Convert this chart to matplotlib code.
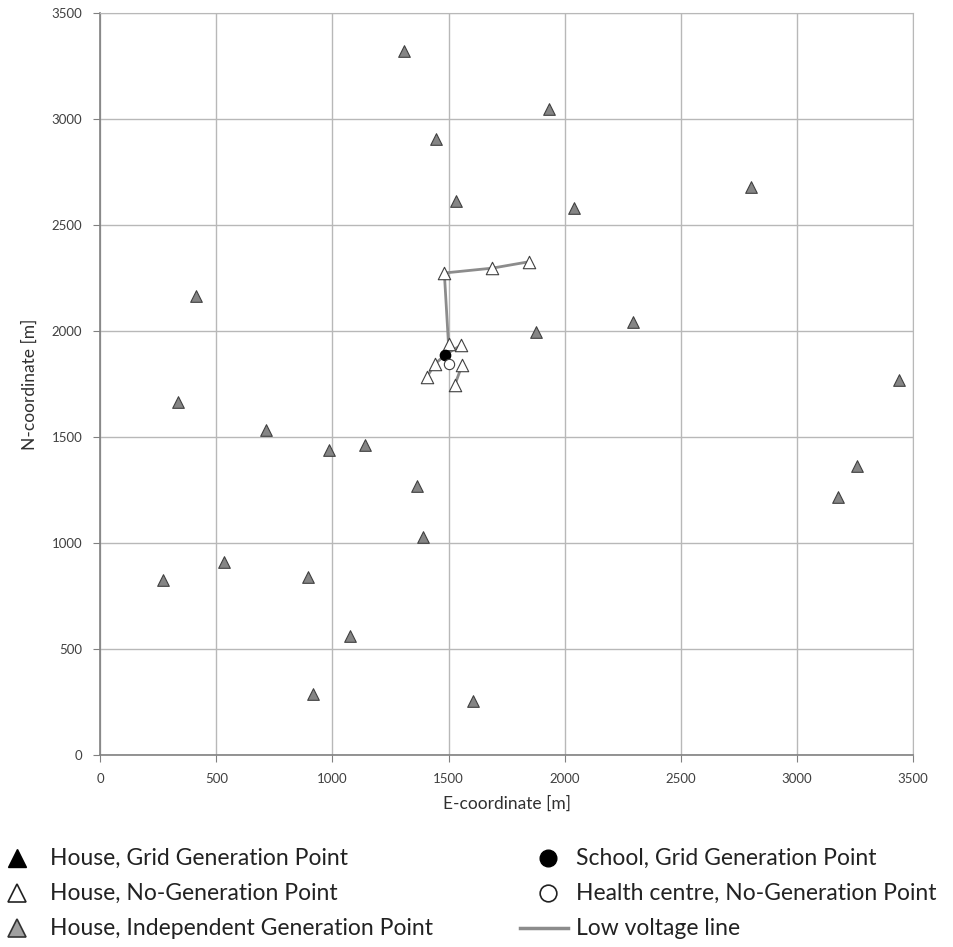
import matplotlib
matplotlib.use("Agg")
import matplotlib.pyplot as plt
from matplotlib.lines import Line2D

plt.rcParams['font.family'] = ['Lato', 'DejaVu Sans']

# Independent generation houses (gray triangles)
indep_e = [1307, 1931, 1445, 1532, 2041, 2804, 413, 1875, 2295, 335, 714, 984, 1140,
           1364, 1391, 270, 533, 894, 1074, 916, 1604, 3259, 3175, 3440]
indep_n = [3320, 3050, 2907, 2615, 2583, 2678, 2164, 1997, 2041, 1665, 1534, 1437, 1462,
           1270, 1030, 826, 910, 839, 562, 285, 253, 1361, 1218, 1770]

# No-generation houses (white triangles)
nogen_e = [1846, 1689, 1482, 1500, 1552, 1441, 1559, 1407, 1527]
nogen_n = [2327, 2297, 2274, 1937, 1932, 1844, 1841, 1783, 1745]

# School (grid generation) and health centre (no generation)
school_e, school_n = [1486], [1888]
health_e, health_n = [1500], [1843]

# Low voltage line branches
lines = [
    ([1846, 1689, 1482, 1500, 1486], [2327, 2297, 2274, 1937, 1888]),
    ([1486, 1552], [1888, 1932]),
    ([1486, 1441, 1407], [1888, 1844, 1783]),
    ([1559, 1527], [1841, 1745]),
]

ticks = [0, 500, 1000, 1500, 2000, 2500, 3000, 3500]

fig = plt.figure(figsize=(9.54, 9.47), dpi=100)
ax = fig.add_axes([0.105, 0.203, 0.852, 0.783])

line_color = '#8c8c8c'
for xs, ys in lines:
    ax.plot(xs, ys, color=line_color, lw=2, zorder=3)

ax.scatter(indep_e, indep_n, marker='^', s=70, facecolor='#858585', edgecolor='#404040',
           linewidths=0.8, zorder=4)
ax.scatter(nogen_e, nogen_n, marker='^', s=80, facecolor='white', edgecolor='#404040',
           linewidths=0.8, zorder=4)
ax.scatter(school_e, school_n, marker='o', s=55, facecolor='black', edgecolor='black', zorder=5)
ax.scatter(health_e, health_n, marker='o', s=55, facecolor='white', edgecolor='#404040',
           linewidths=0.8, zorder=5)

ax.set_xlim(0, 3500)
ax.set_ylim(0, 3500)
ax.set_xticks(ticks)
ax.set_yticks(ticks)
ax.set_xticklabels([str(t) for t in ticks])
ax.set_yticklabels([str(t) for t in ticks])
ax.grid(True, color='#b8b8b8', lw=1)
ax.set_axisbelow(True)
for s in ['top', 'right']:
    ax.spines[s].set_color('#b8b8b8')
for s in ['left', 'bottom']:
    ax.spines[s].set_color('#808080')
    ax.spines[s].set_linewidth(1.2)
ax.tick_params(direction='out', length=5, color='#808080', labelsize=9.5,
               labelcolor='#404040', pad=8)
ax.set_xlabel('E-coordinate [m]', fontsize=12.5, color='#303030', labelpad=8)
ax.set_ylabel('N-coordinate [m]', fontsize=12.5, color='#303030', labelpad=10)

# Legend (custom layout below the plot)
fs = 16.5
def fy(py):
    return 1 - py / 947
def fx(px):
    return px / 954

fig.add_artist(Line2D([fx(17)], [fy(858)], marker='^', ms=13, color='black',
                      markeredgecolor='black', transform=fig.transFigure))
fig.text(fx(50), fy(858), 'House, Grid Generation Point', fontsize=fs, va='center', color='#222222')
fig.add_artist(Line2D([fx(17)], [fy(893)], marker='^', ms=13, markerfacecolor='white',
                      markeredgecolor='#222222', markeredgewidth=1.2, transform=fig.transFigure))
fig.text(fx(50), fy(893), 'House, No-Generation Point', fontsize=fs, va='center', color='#222222')
fig.add_artist(Line2D([fx(17)], [fy(928)], marker='^', ms=13, markerfacecolor='#a0a0a0',
                      markeredgecolor='#333333', markeredgewidth=1.2, transform=fig.transFigure))
fig.text(fx(50), fy(928), 'House, Independent Generation Point', fontsize=fs, va='center', color='#222222')

fig.add_artist(Line2D([fx(548)], [fy(858)], marker='o', ms=12, color='black',
                      transform=fig.transFigure))
fig.text(fx(576), fy(858), 'School, Grid Generation Point', fontsize=fs, va='center', color='#222222')
fig.add_artist(Line2D([fx(548)], [fy(893)], marker='o', ms=12, markerfacecolor='white',
                      markeredgecolor='#222222', markeredgewidth=1.2, transform=fig.transFigure))
fig.text(fx(576), fy(893), 'Health centre, No-Generation Point', fontsize=fs, va='center', color='#222222')
fig.add_artist(Line2D([fx(520), fx(568)], [fy(928), fy(928)], color=line_color, lw=2.5,
                      transform=fig.transFigure))
fig.text(fx(576), fy(928), 'Low voltage line', fontsize=fs, va='center', color='#222222')

fig.savefig('out.png', dpi=100)
